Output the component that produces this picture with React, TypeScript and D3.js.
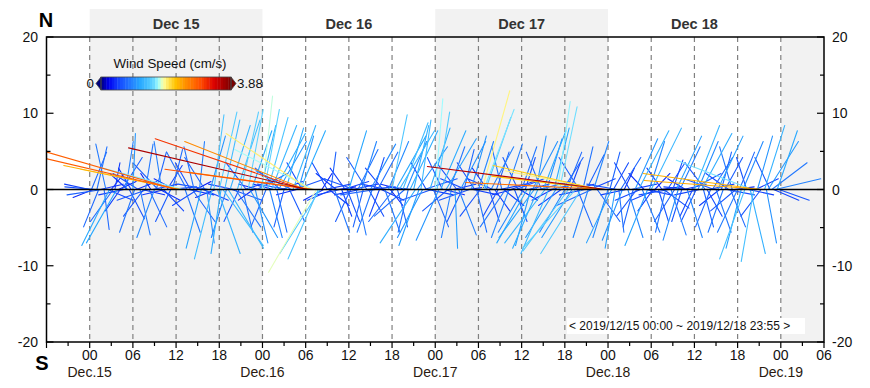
import { useMemo } from "react";
import * as d3 from "d3";

// 15-minute current vectors (cm/s) from Dec 15 00:00, one row per 6 hours
const uDec15 = [
  -0.5, 0.3, -0.4, -0.6, 0.2, -0.3, 0.45, -0.7, 0.1, -0.2, 0.5, -0.55, 0.25, -0.45, 0.1, -0.6, 0.35, -0.3, 0.4, -0.5, 0.15, -0.35, 0.3, -0.25,
  0.05, -0.3, 0.4, -0.5, 0.2, 0.45, -0.4, 0.15, -0.6, 0.35, -0.2, 0.5, -0.35, 0.2, -0.5, 0.4, -0.15, 0.4, -0.45, 0.3, 0.55, -0.3, 0.2, -0.4,
  -2.75, -2.8, -2.3, -2.0, -1.6, 0.3, -0.4, 0.5, -0.3, 0.45, -0.2, 0.3, -0.5, 0.1, -0.3, 0.5, -0.4, 0.15, -0.6, 0.3, -0.35, 0.2, -0.4, 0.45,
  0.35, -0.2, 0.8, 0.3, -0.3, 0.7, 0.4, 0.6, -0.5, 0.5, 0.45, -0.3, 0.35, 0.2, 0.5, -0.4, 0.3, 0.55, 0.4, -0.3, 0.25, 0.6, -0.4, 0.3,
];
const vDec15 = [
  0.1, 0.7, -0.15, 0.05, 0.8, -0.7, 0.1, -0.1, -0.75, 0.85, -0.2, -1.05, 0.3, -0.6, 0.5, -1.0, 0.15, -0.4, 0.6, -0.1, 0.9, 0.3, -0.55, 0.4,
  1.05, -0.8, 0.15, 0.3, -0.85, -0.1, -0.5, 0.85, -0.2, -0.7, 0.3, 0.1, -0.9, 0.7, 0.5, -0.2, 0.9, -0.4, -0.1, 0.45, 0.05, -0.6, 0.75, 0.2,
  0.75, 0.62, 0.45, 0.38, 0.4, -0.8, 0.7, -0.1, 0.5, -0.6, 0.8, 0.15, -0.3, 0.9, -1.1, -0.2, 0.6, -1.0, 0.1, 1.0, -1.3, 1.4, -0.15, -1.2,
  1.45, -1.2, -1.05, 1.3, -0.9, -1.1, 1.2, -0.2, 0.1, -0.7, 1.3, -0.6, 1.45, -0.8, 0.15, 0.5, 1.5, -0.9, 1.1, -0.2, -1.0, 0.3, 0.1, 1.2,
];
const uDec16 = [
  0.2, 0.3, -0.3, 0.4, 0.25, 0.5, -0.4, 0.6, 0.2, 0.55, -0.5, 0.4, -0.2, 0.35, -0.6, 0.3, -0.7, 0.45, 0.6, -0.4, 0.3, 0.5, -0.3, -2.95,
  -2.4, -3.55, -1.65, -2.9, -1.55, -2.5, -0.95, -0.6, -0.8, 0.2, -0.4, 0.5, -0.3, 0.4, 0.1, -0.5, 0.3, -0.4, 0.35, -0.45, 0.2, 0.5, -0.3, 0.25,
  0.35, -0.3, 0.5, -0.6, 0.2, 0.4, -0.5, 0.3, -0.2, 0.6, -0.4, 0.3, 0.5, -0.3, 0.2, -0.7, 0.4, -0.2, 0.45, -0.35, 0.3, -0.5, 0.4, 0.25,
  0.3, -0.5, 0.6, 0.2, 0.7, -0.4, 0.5, -0.6, 0.4, -0.2, 0.55, -0.5, 0.3, -0.7, 0.6, -0.4, 0.2, -0.5, 0.65, -0.3, 0.5, 0.4, -0.6, 0.3,
];
const vDec16 = [
  1.75, 1.5, -0.7, 1.35, -0.9, 1.2, 0.1, 1.05, -0.8, 0.9, 0.4, 0.15, -0.7, 1.15, 0.1, -0.6, 0.35, 1.2, 0.2, -0.1, 1.0, 1.1, 0.5, 0.95,
  0.9, 0.78, 1.05, 0.38, 0.75, 0.32, -1.55, -1.3, -1.2, 0.3, -0.2, 0.1, 0.5, -0.3, 0.7, -0.2, -0.8, 0.3, 0.05, -0.1, -0.5, 0.15, 0.4, -0.6,
  1.1, -0.6, 0.1, 0.2, -0.85, 0.75, -0.1, 0.9, -0.7, 0.05, 0.6, -0.5, 0.85, -0.8, 0.6, -0.1, 0.7, -0.5, -0.2, 0.4, -0.8, 0.1, 0.9, -0.3,
  1.4, -0.6, 1.0, -0.7, 1.1, 0.1, 1.25, -0.5, 0.9, -0.8, 1.1, 0.05, 1.2, -1.0, 0.8, -1.05, 1.3, -0.9, 0.2, 0.5, -0.1, 1.15, -0.2, -0.7,
];
const uDec17 = [
  0.15, 0.25, -0.45, 0.5, -0.3, 0.4, 0.6, -0.5, 0.3, -0.2, 0.45, 0.05, -0.4, 0.35, 0.5, -0.3, 0.2, -0.5, 0.4, -0.6, 0.3, 0.5, -0.35, 0.2,
  0.3, -0.4, 0.55, 0.6, 0.5, -0.3, 0.2, 0.45, -0.5, 0.3, 0.25, -0.3, 0.5, -0.2, 0.4, -0.5, 0.3, -0.35, 0.45, -0.4, 0.25, 0.55, -0.3, 0.35,
  0.3, -0.5, 0.2, -0.6, 0.4, -0.3, 0.5, -0.7, 0.2, -0.5, 0.6, -0.3, 0.45, -0.8, 0.3, -0.55, 0.5, -0.4, 0.3, -0.6, 0.25, 0.35, -0.45, 0.4,
  -0.5, 0.3, -0.9, 0.2, -0.6, 0.4, -1.05, 0.3, -0.4, -0.8, 0.2, -0.5, 0.35, -0.3, 0.5, -0.7, 0.3, -0.4, 0.45, -2.1, -1.9, -2.2, -2.75, -3.55,
];
const vDec17 = [
  1.7, 1.45, -0.95, 1.1, 0.6, -0.1, 0.95, -0.4, 0.8, -0.9, 0.1, -1.1, 0.5, -0.85, 0.9, -0.6, 0.75, 0.2, 0.05, -0.2, 1.0, -0.1, 0.5, -0.8,
  0.9, -0.5, 1.85, 1.5, 1.35, 0.4, -0.6, 0.8, 0.2, -0.4, 0.7, -0.5, 0.1, 0.8, -0.3, -0.7, 0.85, -0.9, 0.15, -0.1, -0.6, 0.2, 0.6, -0.2,
  0.8, -0.8, 0.6, -1.0, 0.1, -1.05, 0.9, -0.9, 1.0, -1.1, 0.15, 0.7, 1.1, -1.0, 0.95, -1.2, 0.1, -0.2, 1.15, -0.9, 1.65, 1.55, -0.3, 0.6,
  -0.8, 0.7, -1.15, 0.5, -0.9, 0.1, -1.1, -0.7, 0.6, -1.2, 0.8, -0.1, 0.65, -0.9, 0.2, -0.3, 0.9, 0.1, -0.6, 0.45, 0.35, 0.25, 0.13, 0.43,
];
const uDec18 = [
  -0.3, 0.2, -0.5, 0.3, -0.2, -0.6, 0.1, 0.4, -0.4, 0.2, -0.5, 0.3, -0.3, 0.5, -0.2, 0.45, -0.4, 0.6, -0.5, 0.35, -0.3, 0.5, -0.45, 0.3,
  0.6, -0.3, 0.3, -0.5, 0.2, 0.4, -0.3, 0.5, -0.2, 0.35, -0.6, 0.3, 0.2, -0.4, 0.5, -0.3, 0.4, -0.2, 0.45, -0.35, 0.3, -0.5, 0.6, -0.25,
  0.5, -0.3, 0.4, -0.5, 0.6, 0.2, -0.4, 0.3, 0.5, -0.3, 0.4, -0.6, 0.3, 0.5, -0.4, 0.2, -0.3, 0.35, 0.55, -0.45, 0.3, -0.25, 0.4, -0.5,
  -0.4, 0.3, -0.3, 0.4, -0.5, -0.2, 0.5, 0.3, -1.5, -0.25, 0.45, 0.3, -2.3, -0.4, -2.35, 0.4, 0.2, 0.6, -0.3, 0.7, 0.5, 0.9, 0.4, 0.6,
];
const vDec18 = [
  -0.9, 0.7, -1.0, 0.5, -1.1, 0.1, -0.8, 0.6, -0.95, 0.4, -0.1, -0.9, 0.5, 0.1, -0.7, 0.95, -0.5, 1.1, -0.2, -0.8, 0.3, -0.1, -1.05, 0.9,
  1.15, -0.4, 0.3, -0.2, -0.6, 0.05, 0.4, -0.35, -0.8, 0.5, -0.1, -0.85, 0.55, -0.6, 1.0, -0.95, 0.8, -0.6, 0.1, 0.2, -0.9, 0.05, 0.3, -0.5,
  1.2, -0.6, 0.9, -0.1, 1.05, -0.7, 0.5, -0.5, 0.1, -0.7, 0.6, 0.2, -0.8, 1.0, -0.3, 0.7, -0.8, 0.6, -0.1, 0.3, -0.7, 0.8, 0.05, -0.4,
  -0.8, 0.7, -1.1, 0.9, -1.3, 0.6, -0.1, -1.2, 0.55, -1.35, 0.2, 1.0, 0.3, -0.5, 0.17, 1.2, -1.0, 0.9, 0.6, 0.5, -0.2, 0.2, 1.1, -0.2,
];

const dayLabels = ["Dec 15", "Dec 16", "Dec 17", "Dec 18"];
const shadedDays = [0, 2]; // Dec 15, Dec 17 (plus the Dec 19 morning)
const yTicks = [-20, -10, 0, 10, 20];
const yMinor = [-15, -5, 5, 15];
const hourLabels = ["00", "06", "12", "18"];
const dateLabels = ["Dec.15", "Dec.16", "Dec.17", "Dec.18", "Dec.19"];
const speedMax = 3.88;
const colorStops = [0, 0.06, 0.14, 0.22, 0.3, 0.4, 0.44, 0.48, 0.57, 0.65, 0.77, 0.87, 1];
const colorRange = ["#00007f", "#0000f0", "#1448ff", "#2378ff", "#28a8ff", "#60d4ff", "#9ffcff", "#ffffa0", "#ffc400", "#ff9000", "#ff4a00", "#dc0000", "#7a0000"];
const rangeNote = "< 2019/12/15 00:00 ~ 2019/12/18 23:55 >";

const STEP_MS = 15 * 60 * 1000;
const HOUR = 3600 * 1000;
const K = 7; // stick scale: hours (x) and axis units (y) per cm/s
const FONT = "'Liberation Sans', Arial, sans-serif";

export default function App() {
  const W = 870, H = 388;
  const left = 46.5, right = 824, top = 37, bottom = 342;

  const t0 = Date.UTC(2019, 11, 15);
  const x = d3.scaleUtc().domain([new Date(Date.UTC(2019, 11, 14, 18)), new Date(Date.UTC(2019, 11, 19, 6))]).range([left, right]);
  const y = d3.scaleLinear().domain([-20, 20]).range([bottom, top]);
  const color = d3.scaleLinear<string>().domain(colorStops.map((s) => s * speedMax)).range(colorRange).interpolate(d3.interpolateRgb).clamp(true);

  const sticks = useMemo(() => {
    const us = [...uDec15, ...uDec16, ...uDec17, ...uDec18];
    const vs = [...vDec15, ...vDec16, ...vDec17, ...vDec18];
    const n = Math.min(us.length, vs.length);
    const out = us.slice(0, n).map((u, i) => {
      const v = vs[i];
      return { t: t0 + i * STEP_MS, u, v, s: Math.hypot(u, v) };
    });
    // slow ones first so the fast coloured sticks sit on top
    return out.sort((a, b) => a.s - b.s);
  }, []);

  const dayStart = (d: number) => new Date(t0 + d * 24 * HOUR);
  const sixHours = d3.range(0, 17).map((i) => new Date(t0 + i * 6 * HOUR));
  const allTicks = d3.range(0, 37).map((i) => new Date(Date.UTC(2019, 11, 14, 18) + i * 3 * HOUR));

  const cbX0 = 101, cbX1 = 231, cbY = 77, cbH = 13;
  const cbSteps = d3.range(0, 48);
  const cbW = (cbX1 - cbX0) / cbSteps.length;

  return (
    <div style={{ position: "fixed", left: 0, top: 0 }}>
      <svg width={W} height={H} style={{ display: "block", background: "#fff", fontFamily: FONT }}>
        <defs>
          <clipPath id="plot-clip">
            <rect x={left} y={top} width={right - left} height={bottom - top} />
          </clipPath>
        </defs>

        {/* day shading + header bands */}
        {shadedDays.map((d) => (
          <g key={`sh-${d}`}>
            <rect x={x(dayStart(d))} y={top} width={x(dayStart(d + 1)) - x(dayStart(d))} height={bottom - top} fill="#f2f2f2" />
            <rect x={x(dayStart(d))} y={9} width={x(dayStart(d + 1)) - x(dayStart(d))} height={top - 9} fill="#f2f2f2" />
          </g>
        ))}
        <rect x={x(dayStart(4))} y={top} width={right - x(dayStart(4))} height={bottom - top} fill="#f2f2f2" />
        {dayLabels.map((lab, d) => (
          <text key={lab} x={(x(dayStart(d)) + x(dayStart(d + 1))) / 2} y={24} textAnchor="middle" dominantBaseline="central"
            fontWeight="bold" fontSize={14.5} fill="#333">{lab}</text>
        ))}

        {/* dashed 6-hour grid */}
        {sixHours.map((t, i) => (
          <line key={`g-${i}`} x1={x(t)} x2={x(t)} y1={top} y2={bottom} stroke="#808080" strokeWidth={1.2} strokeDasharray="5,4" />
        ))}

        {/* sticks */}
        <g clipPath="url(#plot-clip)">
          {sticks.map((s, i) => (
            <line key={`s-${i}`} x1={x(new Date(s.t))} y1={y(0)} x2={x(new Date(s.t + s.u * K * HOUR))} y2={y(s.v * K)}
              stroke={color(s.s)} strokeWidth={1.1} strokeLinecap="round" />
          ))}
        </g>

        {/* zero line */}
        <line x1={left} x2={right} y1={y(0)} y2={y(0)} stroke="#000" strokeWidth={1.6} />

        {/* frame */}
        <rect x={left} y={top} width={right - left} height={bottom - top} fill="none" stroke="#000" strokeWidth={1.5} />

        {/* y axes */}
        {yTicks.map((v) => (
          <g key={`yt-${v}`}>
            <line x1={left} x2={left + 7} y1={y(v)} y2={y(v)} stroke="#000" strokeWidth={1.2} />
            <line x1={right} x2={right - 7} y1={y(v)} y2={y(v)} stroke="#000" strokeWidth={1.2} />
            <text x={38} y={y(v)} textAnchor="end" dominantBaseline="central" fontSize={14} fill="#111">{v}</text>
            <text x={832} y={y(v)} textAnchor="start" dominantBaseline="central" fontSize={14} fill="#111">{v}</text>
          </g>
        ))}
        {yMinor.map((v) => (
          <g key={`ym-${v}`}>
            <line x1={left} x2={left + 4} y1={y(v)} y2={y(v)} stroke="#000" strokeWidth={1.2} />
            <line x1={right} x2={right - 4} y1={y(v)} y2={y(v)} stroke="#000" strokeWidth={1.2} />
          </g>
        ))}

        {/* x axis */}
        {allTicks.map((t, i) => (
          <line key={`xt-${i}`} x1={x(t)} x2={x(t)} y1={bottom} y2={bottom + (i % 2 === 0 ? 6 : 4)} stroke="#000" strokeWidth={1.2} />
        ))}
        {sixHours.concat([new Date(t0 + 102 * HOUR)]).map((t, i) => (
          <text key={`xl-${i}`} x={x(t)} y={355} textAnchor="middle" dominantBaseline="central" fontSize={14} fill="#111">
            {hourLabels[i % 4]}
          </text>
        ))}
        {dateLabels.map((lab, d) => (
          <text key={lab} x={x(dayStart(d))} y={372} textAnchor="middle" dominantBaseline="central" fontSize={14} fill="#2a1a10">{lab}</text>
        ))}

        {/* N / S */}
        <text x={46} y={20} textAnchor="middle" dominantBaseline="central" fontWeight="bold" fontSize={20} fill="#000">N</text>
        <text x={42} y={363} textAnchor="middle" dominantBaseline="central" fontWeight="bold" fontSize={20} fill="#000">S</text>

        {/* colour legend */}
        <text x={170} y={63} textAnchor="middle" dominantBaseline="central" fontSize={13.3} fill="#111">Wind Speed (cm/s)</text>
        {cbSteps.map((k) => (
          <rect key={`cb-${k}`} x={cbX0 + k * cbW} y={cbY} width={cbW + 0.4} height={cbH} fill={color(((k + 0.5) / cbSteps.length) * speedMax)} />
        ))}
        <path d={`M${cbX0},${cbY} L${cbX0 - 5},${cbY + cbH / 2} L${cbX0},${cbY + cbH} Z`} fill={color(0)} stroke="#444" strokeWidth={0.8} />
        <path d={`M${cbX1},${cbY} L${cbX1 + 5},${cbY + cbH / 2} L${cbX1},${cbY + cbH} Z`} fill={color(speedMax)} stroke="#444" strokeWidth={0.8} />
        <rect x={cbX0} y={cbY} width={cbX1 - cbX0} height={cbH} fill="none" stroke="#444" strokeWidth={0.8} />
        <text x={94} y={cbY + cbH / 2} textAnchor="end" dominantBaseline="central" fontSize={13.3} fill="#111">0</text>
        <text x={237} y={cbY + cbH / 2} textAnchor="start" dominantBaseline="central" fontSize={13.3} fill="#111">{speedMax.toFixed(2)}</text>

        {/* period note */}
        <rect x={567} y={318} width={238} height={16} fill="#fff" />
        <text x={569} y={326} dominantBaseline="central" fontSize={12} fill="#111">{rangeNote}</text>
      </svg>
    </div>
  );
}
